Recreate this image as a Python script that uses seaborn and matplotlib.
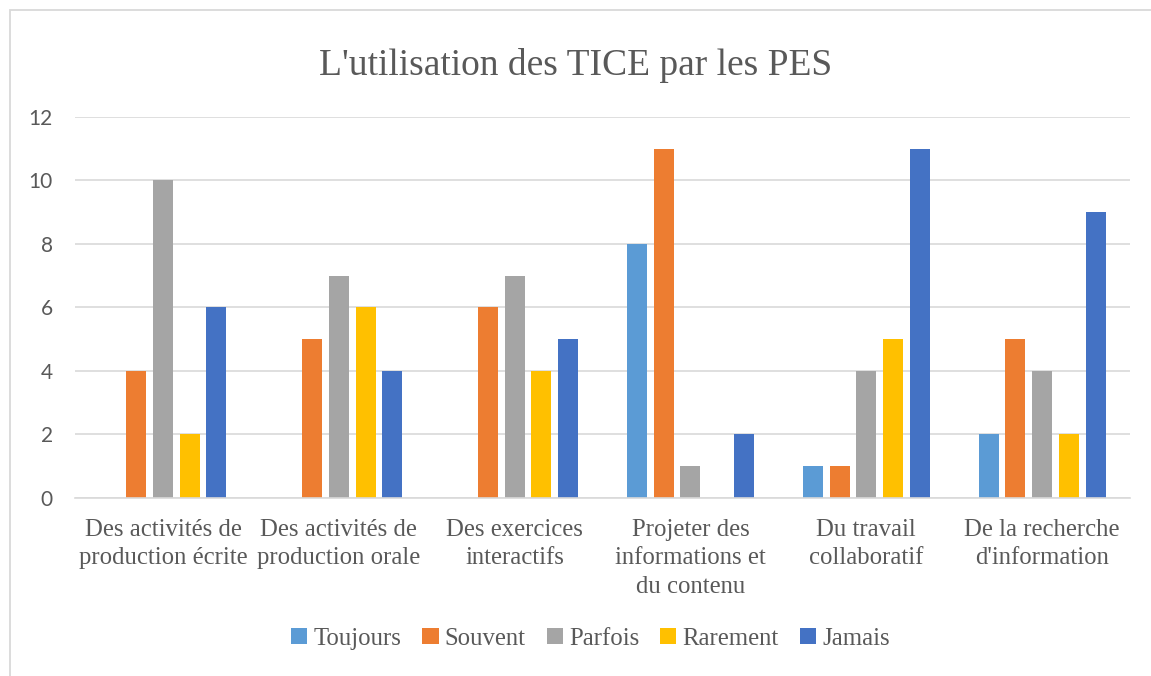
import matplotlib
matplotlib.use("Agg")
import matplotlib.pyplot as plt
from matplotlib.patches import Rectangle
import seaborn as sns
import pandas as pd

categories = [
    "Des activités de\nproduction écrite",
    "Des activités de\nproduction orale",
    "Des exercices\ninteractifs",
    "Projeter des\ninformations et\ndu contenu",
    "Du travail\ncollaboratif",
    "De la recherche\nd'information",
]
series = ["Toujours", "Souvent", "Parfois", "Rarement", "Jamais"]
toujours = [0, 0, 0, 8, 1, 2]
souvent = [4, 5, 6, 11, 1, 5]
parfois = [10, 7, 7, 1, 4, 4]
rarement = [2, 6, 4, 0, 5, 2]
jamais = [6, 4, 5, 2, 11, 9]
title = "L'utilisation des TICE par les PES"
yticks = [0, 2, 4, 6, 8, 10, 12]
colors = ["#5B9BD5", "#ED7D31", "#A5A5A5", "#FFC000", "#4472C4"]

values = [toujours, souvent, parfois, rarement, jamais]
rows = []
for s, vals in zip(series, values):
    for c, v in zip(categories, vals):
        rows.append({"cat": c, "serie": s, "val": v})
df = pd.DataFrame(rows)

sns.set_theme(style="white")
plt.rcParams["font.family"] = ["Liberation Serif", "DejaVu Serif"]

fig = plt.figure(figsize=(11.51, 6.76), dpi=100)
ax = fig.add_axes([0.0652, 0.2633, 0.9166, 0.5637])

sns.barplot(data=df, x="cat", y="val", hue="serie", order=categories,
            hue_order=series, palette=colors, width=0.76, gap=0.25,
            saturation=1, linewidth=0, ax=ax, legend=True)

ax.set_ylim(0, 12)
ax.set_xlim(-0.5, len(categories) - 0.5)
ax.set_yticks(yticks)
ax.set_yticklabels([str(t) for t in yticks], family=["Lato", "DejaVu Sans"],
                   fontsize=15, color="#595959")
ax.tick_params(axis="y", length=0, pad=16)
ax.tick_params(axis="x", length=0, pad=15)
for lab in ax.get_xticklabels():
    lab.set_fontsize(17.8)
    lab.set_color("#595959")
    lab.set_linespacing(1.38)
ax.set_xlabel("")
ax.set_ylabel("")
ax.grid(axis="y", color="#D9D9D9", linewidth=1.2)
ax.set_axisbelow(True)
for sp in ["left", "right", "top"]:
    ax.spines[sp].set_visible(False)
ax.spines["bottom"].set_color("#D9D9D9")
ax.spines["bottom"].set_linewidth(1.2)

handles, labels = ax.get_legend_handles_labels()
ax.get_legend().remove()
fig.legend(handles, labels, loc="center", bbox_to_anchor=(0.513, 0.055),
           ncol=5, frameon=False, fontsize=17.8, handlelength=0.65,
           handleheight=0.65, handletextpad=0.25, columnspacing=0.85,
           labelcolor="#595959")

fig.text(0.5, 0.903, title, ha="center", va="center", fontsize=27,
         color="#595959")

fig.add_artist(Rectangle((10 / 1151, -0.1), 1.2, 1 - 10 / 676 + 0.1,
                         fill=False, edgecolor="#D9D9D9", linewidth=1.3,
                         transform=fig.transFigure))

fig.savefig("out.png", dpi=100)
